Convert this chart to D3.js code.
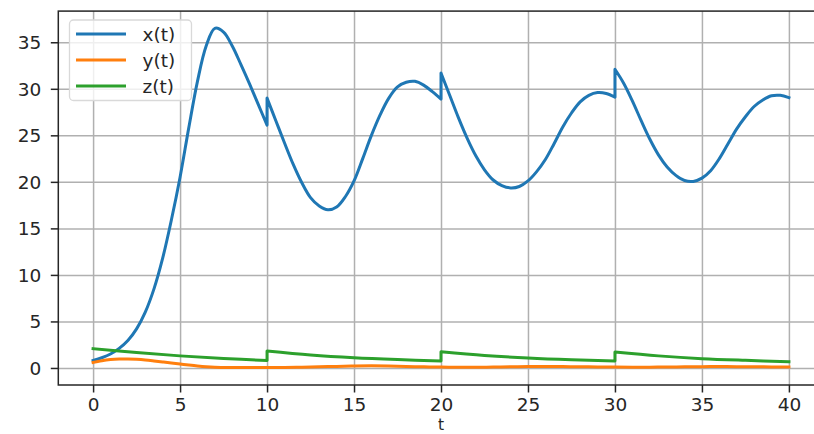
<!DOCTYPE html>
<html>
<head>
<meta charset="utf-8">
<script src="https://cdn.jsdelivr.net/npm/d3@7"></script>
<style>
  html, body { margin: 0; padding: 0; background: #ffffff; }
  svg { display: block; }
  text { font-family: "DejaVu Sans", sans-serif; fill: #262626; }
</style>
</head>
<body>
<svg id="chart" width="814" height="434"></svg>
<script>
// Tick positions
const tTicks = [0, 5, 10, 15, 20, 25, 30, 35, 40];
const vTicks = [0, 5, 10, 15, 20, 25, 30, 35];

// Series as [t, value]; a repeated t marks an impulse jump.
const xSeries = [
  [0, 0.8], [0.5, 1.1], [1.0, 1.5], [1.5, 2.1], [2.0, 2.95], [2.5, 4.2], [3.0, 6.0],
  [3.5, 8.5], [4.0, 11.8], [4.5, 15.9], [5.0, 20.5], [5.5, 25.8], [6.0, 30.8],
  [6.5, 34.6], [7.0, 36.5], [7.5, 36.1], [8.0, 34.6], [8.5, 32.6],
  [9.0, 30.5], [9.5, 28.3], [10.0, 26.1],
  [10.0, 29.0], [10.5, 26.6], [11.0, 24.2], [11.5, 21.9], [12.0, 19.9], [12.5, 18.3],
  [13.0, 17.4], [13.5, 17.0], [14.0, 17.3], [14.5, 18.4], [15.0, 20.1], [15.5, 22.5],
  [16.0, 25.0], [16.5, 27.2], [17.0, 29.0], [17.5, 30.2], [18.0, 30.7], [18.5, 30.8],
  [19.0, 30.4], [19.5, 29.7], [20.0, 28.9],
  [20.0, 31.7], [20.5, 29.3], [21.0, 26.9], [21.5, 24.7], [22.0, 22.8], [22.5, 21.3],
  [23.0, 20.2], [23.5, 19.6], [24.0, 19.35], [24.5, 19.5], [25.0, 20.1], [25.5, 21.1],
  [26.0, 22.4], [26.5, 24.1], [27.0, 25.9], [27.5, 27.4], [28.0, 28.6], [28.5, 29.3],
  [29.0, 29.6], [29.5, 29.5], [30.0, 29.1],
  [30.0, 32.1], [30.5, 30.6], [31.0, 28.7], [31.5, 26.6], [32.0, 24.6], [32.5, 22.9],
  [33.0, 21.6], [33.5, 20.7], [34.0, 20.15], [34.5, 20.05], [35.0, 20.4], [35.5, 21.2],
  [36.0, 22.5], [36.5, 24.1], [37.0, 25.7], [37.5, 27.0], [38.0, 28.1], [38.5, 28.8],
  [39.0, 29.25], [39.5, 29.3], [40.0, 29.05]
];

const ySeries = [
  [0, 0.6], [0.5, 0.78], [1.0, 0.9], [1.5, 0.96], [2.0, 0.97], [2.5, 0.93], [3.0, 0.86],
  [3.5, 0.76], [4.0, 0.65], [4.5, 0.54], [5.0, 0.43], [5.5, 0.32], [6.0, 0.22],
  [6.5, 0.14], [7.0, 0.09], [8.0, 0.06], [9.0, 0.05], [10.0, 0.05], [11.0, 0.06],
  [12.0, 0.08], [13.0, 0.12], [14.0, 0.17], [15.0, 0.21], [16.0, 0.23], [17.0, 0.21],
  [18.0, 0.16], [19.0, 0.12], [20.0, 0.1], [21.0, 0.08], [22.0, 0.08], [23.0, 0.1],
  [24.0, 0.13], [25.0, 0.15], [26.0, 0.16], [27.0, 0.15], [28.0, 0.13], [29.0, 0.11],
  [30.0, 0.1], [31.0, 0.09], [32.0, 0.09], [33.0, 0.1], [34.0, 0.12], [35.0, 0.14],
  [36.0, 0.15], [37.0, 0.14], [38.0, 0.13], [39.0, 0.11], [40.0, 0.1]
];

const zSeries = [
  [0, 2.07], [2.5, 1.65], [5.0, 1.3], [7.5, 1.02], [10.0, 0.8],
  [10.0, 1.83], [12.5, 1.4], [15.0, 1.1], [17.5, 0.9], [20.0, 0.75],
  [20.0, 1.75], [22.5, 1.35], [25.0, 1.07], [27.5, 0.88], [30.0, 0.75],
  [30.0, 1.72], [32.5, 1.3], [35.0, 1.0], [37.5, 0.82], [40.0, 0.68]
];

const seriesNames = ["x(t)", "y(t)", "z(t)"];
const seriesColors = ["#1f77b4", "#ff7f0e", "#2ca02c"];

// Plot geometry
const plot = { left: 58.3, right: 823.7, top: 11.1, bottom: 385 };

const xs = d3.scaleLinear().domain([-2, 42]).range([plot.left, plot.right]);
const ys = d3.scaleLinear().domain([-1.83, 38.35]).range([plot.bottom, plot.top]);

const svg = d3.select("#chart");

svg.append("defs").append("clipPath").attr("id", "plotArea")
  .append("rect")
  .attr("x", plot.left).attr("y", plot.top)
  .attr("width", plot.right - plot.left).attr("height", plot.bottom - plot.top);

// Grid
const grid = svg.append("g").attr("class", "grid");
grid.append("g")
  .attr("transform", `translate(0,${plot.bottom})`)
  .call(d3.axisBottom(xs).tickValues(tTicks).tickSize(-(plot.bottom - plot.top)).tickFormat(""))
  .call(g => g.select(".domain").remove());
grid.append("g")
  .attr("transform", `translate(${plot.left},0)`)
  .call(d3.axisLeft(ys).tickValues(vTicks).tickSize(-(plot.right - plot.left)).tickFormat(""))
  .call(g => g.select(".domain").remove());
grid.selectAll("line").attr("stroke", "#b0b0b0").attr("stroke-width", 1.5);

// Lines: smooth within each stretch, straight jump between stretches
const line = d3.line()
  .x(d => xs(d[0]))
  .y(d => ys(d[1]))
  .curve(d3.curveCatmullRom.alpha(0.5));

function seriesPath(points) {
  const segs = [];
  let cur = [points[0]];
  for (let i = 1; i < points.length; i++) {
    if (points[i][0] === points[i - 1][0]) { segs.push(cur); cur = [points[i]]; }
    else cur.push(points[i]);
  }
  segs.push(cur);
  return segs.map((s, i) => {
    const d = line(s);
    return i ? d.replace(/^M/, "L") : d;
  }).join("");
}

const lines = svg.append("g").attr("clip-path", "url(#plotArea)");
[xSeries, ySeries, zSeries].forEach((pts, i) => {
  lines.append("path")
    .attr("d", seriesPath(pts))
    .attr("fill", "none")
    .attr("stroke", seriesColors[i])
    .attr("stroke-width", 3)
    .attr("stroke-linejoin", "round")
    .attr("stroke-linecap", "square");
});

// Axes with ticks and labels
const axisColor = "#262626";
const xAxis = svg.append("g")
  .attr("transform", `translate(0,${plot.bottom})`)
  .call(d3.axisBottom(xs).tickValues(tTicks).tickSize(7.5).tickPadding(5).tickFormat(d3.format("d")));
const yAxis = svg.append("g")
  .attr("transform", `translate(${plot.left},0)`)
  .call(d3.axisLeft(ys).tickValues(vTicks).tickSize(7.5).tickPadding(9.5).tickFormat(d3.format("d")));
[xAxis, yAxis].forEach(a => {
  a.select(".domain").remove();
  a.selectAll("line").attr("stroke", axisColor).attr("stroke-width", 1.5);
  a.selectAll("text").style("font-size", "18.5px").attr("fill", axisColor);
});
xAxis.selectAll("text").attr("dy", null).attr("y", 26);
yAxis.selectAll("text").attr("dy", "0.34em");

// Spines
svg.append("rect")
  .attr("x", plot.left).attr("y", plot.top)
  .attr("width", plot.right - plot.left).attr("height", plot.bottom - plot.top)
  .attr("fill", "none").attr("stroke", axisColor).attr("stroke-width", 1.5);

// Axis title
svg.append("text")
  .attr("x", (plot.left + plot.right) / 2)
  .attr("y", 430)
  .attr("text-anchor", "middle")
  .style("font-size", "15.5px")
  .text("t");

// Legend
const legend = svg.append("g");
legend.append("rect")
  .attr("x", 69.5).attr("y", 20)
  .attr("width", 122).attr("height", 80.5)
  .attr("rx", 4).attr("ry", 4)
  .attr("fill", "#ffffff").attr("fill-opacity", 0.8)
  .attr("stroke", "#d9d9d9").attr("stroke-width", 1.3);
seriesNames.forEach((name, i) => {
  const cy = 34 + i * 26;
  legend.append("line")
    .attr("x1", 76).attr("x2", 126)
    .attr("y1", cy).attr("y2", cy)
    .attr("stroke", seriesColors[i]).attr("stroke-width", 3);
  legend.append("text")
    .attr("x", 142.5).attr("y", cy)
    .attr("dy", "0.36em")
    .style("font-size", "18.5px")
    .text(name);
});
</script>
</body>
</html>
